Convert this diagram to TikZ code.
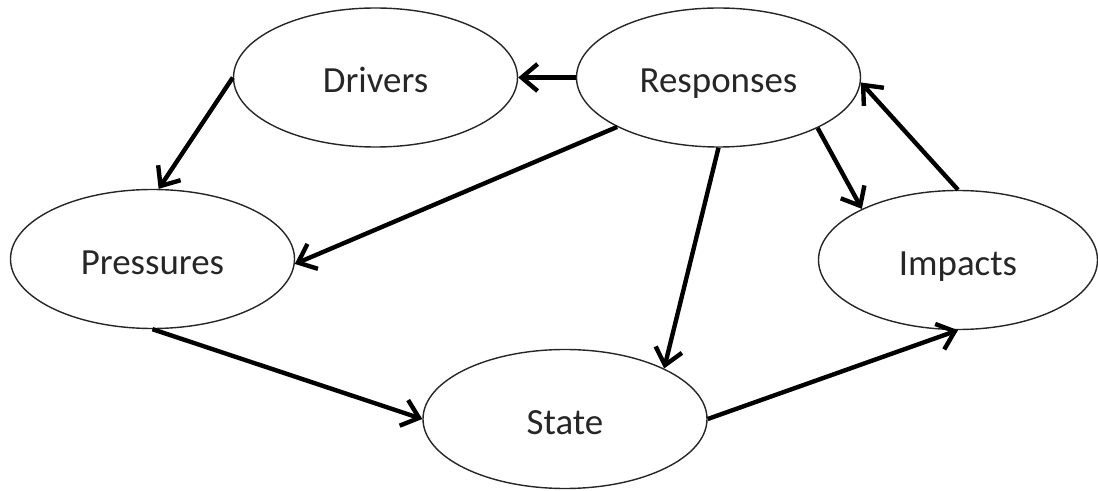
\documentclass[tikz,border=0pt]{standalone}
\usepackage{fontspec}
\setmainfont{Carlito}
\usetikzlibrary{arrows.meta, shapes.geometric}

\begin{document}
\begin{tikzpicture}[
            stage/.style={ellipse, draw=black!85, line width=0.8pt, inner sep=0pt, minimum width=5.68cm, minimum height=2.78cm, text height=0.62cm, text depth=0pt, font=\fontsize{21}{25}\selectfont, text=black!85},
            arrow/.style={-{Straight Barb[length=3.2mm, width=5.4mm]}, line width=2.5pt}
        ]
        \useasboundingbox (0,0) rectangle (21.96,-9.82);

        % Top row
        \node[stage] (drivers) at (7.51,-1.55) {Drivers};
        \node[stage] (responses) at (14.37,-1.55) {Responses};

        % Middle row
        \node[stage] (pressures) at (3.05,-5.18) {Pressures};
        \node[stage, minimum width=5.58cm] (impacts) at (19.16,-5.2) {Impacts};

        % Bottom
        \node[stage] (state) at (11.3,-8.38) {State};

        % Causal chain
        \draw[arrow] (drivers.west) -- (pressures.85);
        \draw[arrow] (pressures.south) -- (state.west);
        \draw[arrow] (state.east) -- (impacts.south);
        \draw[arrow] (impacts.north) -- (responses.358);

        % Responses feeding back
        \draw[arrow] (responses.west) -- (drivers.east);
        \draw[arrow] (responses.206) -- (pressures.358);
        \draw[arrow] (responses.south) -- (state.27);
        \draw[arrow] (responses.333) -- (impacts.152);

    \end{tikzpicture}
\end{document}
